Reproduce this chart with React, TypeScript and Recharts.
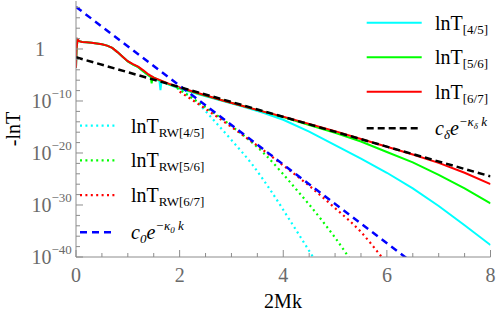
import React from 'react';
import { LineChart, Line, XAxis, YAxis } from 'recharts';

// ---------- data: x = 2Mk, y = log10(-lnT) ----------
const xCyan = [0, 0.01, 0.03, 0.06, 0.12, 0.2, 0.3, 0.4, 0.5, 0.6, 0.7, 0.8, 0.9, 1.0, 1.1, 1.2, 1.3, 1.4, 1.5, 1.61, 1.63, 1.65, 1.8, 2.0, 2.4, 2.8, 3.2, 3.6, 4.0, 4.5, 5.0, 5.5, 6.0, 6.5, 7.0, 7.5, 8.0];
const yCyan = [-3.6, 0.0, 1.8, 1.5, 1.35, 1.3, 1.2, 1.05, 0.9, 0.65, 0.2, -0.6, -1.5, -2.4, -3.0, -3.5, -4.3, -5.1, -5.7, -6.1, -7.9, -6.2, -6.9, -7.6, -8.8, -9.9, -11.0, -12.2, -13.6, -15.9, -18.5, -21.1, -23.8, -26.8, -30.2, -33.9, -37.7];

const xGreen = [0, 0.01, 0.03, 0.06, 0.12, 0.2, 0.3, 0.4, 0.5, 0.6, 0.7, 0.8, 0.9, 1.0, 1.1, 1.2, 1.3, 1.4, 1.44, 1.46, 1.48, 1.6, 1.8, 2.0, 2.4, 2.8, 3.2, 3.6, 4.0, 4.5, 5.0, 5.5, 6.0, 6.5, 7.0, 7.5, 8.0];
const yGreen = [-3.6, 0.0, 1.8, 1.5, 1.35, 1.3, 1.2, 1.05, 0.9, 0.65, 0.2, -0.6, -1.5, -2.4, -3.0, -3.5, -4.3, -5.1, -5.3, -6.6, -5.4, -6.0, -6.8, -7.5, -8.7, -9.8, -10.9, -12.0, -13.1, -14.6, -16.1, -17.8, -19.8, -21.8, -24.2, -26.8, -29.7];

const xRed = [0, 0.01, 0.03, 0.06, 0.12, 0.2, 0.3, 0.4, 0.5, 0.6, 0.7, 0.8, 0.9, 1.0, 1.1, 1.2, 1.3, 1.4, 1.5, 1.6, 1.8, 2.0, 2.4, 2.8, 3.2, 3.6, 4.0, 4.5, 5.0, 5.5, 6.0, 6.5, 7.0, 7.5, 8.0];
const yRed = [-3.6, 0.0, 1.85, 1.5, 1.35, 1.3, 1.2, 1.05, 0.9, 0.65, 0.2, -0.6, -1.5, -2.35, -2.9, -3.4, -4.1, -4.9, -5.5, -5.9, -6.7, -7.4, -8.6, -9.8, -10.9, -12.0, -13.0, -14.4, -15.8, -17.3, -18.8, -20.3, -21.9, -23.8, -26.0];

const xCyanRW = [1.95, 2.26, 2.65, 3.0, 3.4, 3.75, 4.1, 4.48, 4.7];
const yCyanRW = [-7.4, -9.5, -13.6, -17.5, -22.2, -27.1, -32.5, -38.5, -42.0];

const xGreenRW = [1.95, 2.5, 3.0, 3.62, 4.26, 4.75, 5.26, 5.45];
const yGreenRW = [-7.5, -11.2, -14.8, -20.0, -27.1, -33.0, -40.0, -43.0];

const xRedRW = [2.0, 2.5, 3.0, 3.5, 4.0, 4.5, 5.0, 5.5, 5.9, 6.1];
const yRedRW = [-8.2, -11.5, -15.0, -18.6, -22.4, -26.3, -30.6, -35.2, -40.0, -42.5];

const xFit0 = [0, 8];
const yFit0 = [8.1, -52.5];

const xFitD = [0, 8];
const yFitD = [-1.6, -24.5];

// ---------- ticks ----------
const xTicks = [0, 0.5, 1, 1.5, 2, 2.5, 3, 3.5, 4, 4.5, 5, 5.5, 6, 6.5, 7, 7.5, 8];
const xMajor = [0, 2, 4, 6, 8];
const yTicks = [-40, -38, -36, -34, -32, -30, -28, -26, -24, -22, -20, -18, -16, -14, -12, -10, -8, -6, -4, -2, 0, 2, 4, 6, 8];
const yMajor = [-40, -30, -20, -10, 0];

// ---------- styling ----------
const W = 496;
const H = 313;
const FONT = '"Liberation Serif", "Times New Roman", Times, "DejaVu Serif", serif';
const FRAME = '#8c8c8c';
const LABEL = '#6a6a6a';
const serif = { fontFamily: FONT };

const zip = (xs: number[], ys: number[]) => xs.map((x, i) => ({ x, y: ys[i] }));

const solidSeries = [
  { key: 'c', sub: '[4/5]', color: '#00FFFF', xs: xCyan, ys: yCyan },
  { key: 'g', sub: '[5/6]', color: '#00FF00', xs: xGreen, ys: yGreen },
  { key: 'r', sub: '[6/7]', color: '#FF0000', xs: xRed, ys: yRed },
];
const rwSeries = [
  { key: 'crw', sub: 'RW[4/5]', color: '#00FFFF', xs: xCyanRW, ys: yCyanRW },
  { key: 'grw', sub: 'RW[5/6]', color: '#00FF00', xs: xGreenRW, ys: yGreenRW },
  { key: 'rrw', sub: 'RW[6/7]', color: '#FF0000', xs: xRedRW, ys: yRedRW },
];

const BottomTick = (p: any) => {
  const { x, y, payload } = p;
  const major = xMajor.includes(payload.value);
  return (
    <g>
      <line x1={x} x2={x} y1={y} y2={y - (major ? 7 : 4)} stroke={FRAME} strokeWidth={1} />
      {major && (
        <text x={x} y={y + 25} textAnchor="middle" style={serif} fontSize={20} fill={LABEL}>
          {payload.value}
        </text>
      )}
    </g>
  );
};
const TopTick = (p: any) => {
  const { x, y, payload } = p;
  const major = xMajor.includes(payload.value);
  return <line x1={x} x2={x} y1={y} y2={y + (major ? 7 : 4)} stroke={FRAME} strokeWidth={1} />;
};
const LeftTick = (p: any) => {
  const { x, y, payload } = p;
  const v = payload.value;
  const major = yMajor.includes(v);
  return (
    <g>
      <line x1={x} x2={x + (major ? 7 : 4)} y1={y} y2={y} stroke={FRAME} strokeWidth={1} />
      {major && v === 0 && (
        <text x={x - 31} y={y + 7} textAnchor="end" style={serif} fontSize={20} fill={LABEL}>1</text>
      )}
      {major && v !== 0 && (
        <text x={x - 44.5} y={y + 7} textAnchor="start" style={serif} fontSize={20} fill={LABEL}>
          10<tspan fontSize={13} dy={-10}>{'\u2212' + Math.abs(v)}</tspan>
        </text>
      )}
    </g>
  );
};
const RightTick = (p: any) => {
  const { x, y, payload } = p;
  const major = yMajor.includes(payload.value);
  return <line x1={x} x2={x - (major ? 7 : 4)} y1={y} y2={y} stroke={FRAME} strokeWidth={1} />;
};

const LnT = ({ x, y, sub }: { x: number; y: number; sub: string }) => (
  <text x={x} y={y} style={serif} fontSize={20} fill="#000">
    lnT<tspan fontSize={13} dy={4}>{sub}</tspan>
  </text>
);

export default function App() {
  return (
    <div style={{ position: 'absolute', left: 0, top: 0, width: W, height: H, background: '#fff' }}>
      <LineChart width={W} height={H} margin={{ top: 1, right: 5.5, left: 0, bottom: 0 }}>
        <XAxis
          xAxisId={0}
          dataKey="x"
          type="number"
          domain={[0, 8]}
          ticks={xTicks}
          interval={0}
          allowDataOverflow
          height={56}
          tickSize={0}
          tickMargin={0}
          tickLine={false}
          axisLine={{ stroke: FRAME }}
          tick={BottomTick}
        />
        <XAxis
          xAxisId="top"
          orientation="top"
          dataKey="x"
          type="number"
          domain={[0, 8]}
          ticks={xTicks}
          interval={0}
          allowDataOverflow
          height={0}
          tickSize={0}
          tickMargin={0}
          tickLine={false}
          axisLine={{ stroke: FRAME }}
          tick={TopTick}
        />
        <YAxis
          yAxisId={0}
          type="number"
          domain={[-40, 9.23]}
          ticks={yTicks}
          interval={0}
          allowDataOverflow
          width={76}
          tickSize={0}
          tickMargin={0}
          tickLine={false}
          axisLine={{ stroke: FRAME }}
          tick={LeftTick}
        />
        <YAxis
          yAxisId="right"
          orientation="right"
          type="number"
          domain={[-40, 9.23]}
          ticks={yTicks}
          interval={0}
          allowDataOverflow
          width={0}
          tickSize={0}
          tickMargin={0}
          tickLine={false}
          axisLine={{ stroke: FRAME }}
          tick={RightTick}
        />
        {solidSeries.map((s) => (
          <Line
            key={s.key}
            data={zip(s.xs, s.ys)}
            dataKey="y"
            type="linear"
            stroke={s.color}
            strokeWidth={2}
            dot={false}
            isAnimationActive={false}
          />
        ))}
        {rwSeries.map((s) => (
          <Line
            key={s.key}
            data={zip(s.xs, s.ys)}
            dataKey="y"
            type="monotone"
            stroke={s.color}
            strokeWidth={2.2}
            strokeDasharray="2 3.4"
            dot={false}
            isAnimationActive={false}
          />
        ))}
        <Line
          data={zip(xFit0, yFit0)}
          dataKey="y"
          type="linear"
          stroke="#0000FF"
          strokeWidth={2.5}
          strokeDasharray="7 5"
          dot={false}
          isAnimationActive={false}
        />
        <Line
          data={zip(xFitD, yFitD)}
          dataKey="y"
          type="linear"
          stroke="#000"
          strokeWidth={2.5}
          strokeDasharray="7 4"
          dot={false}
          isAnimationActive={false}
        />
      </LineChart>
      <svg
        width={W}
        height={H}
        style={{ position: 'absolute', left: 0, top: 0, pointerEvents: 'none' }}
      >
        {/* axis labels */}
        <text x={283} y={308} textAnchor="middle" style={serif} fontSize={20} fill="#000">2Mk</text>
        <text
          x={0}
          y={0}
          transform="translate(20,129) rotate(-90)"
          textAnchor="middle"
          style={serif}
          fontSize={20}
          fill="#000"
        >
          -lnT
        </text>
        {/* top-right legend */}
        {solidSeries.map((s, i) => (
          <g key={s.key}>
            <line x1={366.7} x2={421.7} y1={22.7 + i * 34.5} y2={22.7 + i * 34.5} stroke={s.color} strokeWidth={2} />
            <LnT x={435} y={29.5 + i * 34.5} sub={s.sub} />
          </g>
        ))}
        <line x1={366.7} x2={421.7} y1={128.3} y2={128.3} stroke="#000" strokeWidth={2.5} strokeDasharray="7 4" />
        <text x={435} y={135} style={serif} fontSize={20} fontStyle="italic" fill="#000">
          c<tspan fontSize={13} dy={4}>{'\u03b4'}</tspan>
          <tspan dy={-4}>e</tspan>
          <tspan fontSize={13} dy={-9}>{'\u2212\u03ba'}</tspan>
          <tspan fontSize={9} dy={3}>{'\u03b4'}</tspan>
          <tspan fontSize={13} dy={-3}>{' k'}</tspan>
        </text>
        {/* left legend */}
        {rwSeries.map((s, i) => (
          <g key={s.key}>
            <line
              x1={80}
              x2={115}
              y1={125.7 + i * 34.7}
              y2={125.7 + i * 34.7}
              stroke={s.color}
              strokeWidth={2.2}
              strokeDasharray="2 3.4"
            />
            <LnT x={131} y={132.5 + i * 34.7} sub={s.sub} />
          </g>
        ))}
        <line x1={80} x2={115} y1={232.3} y2={232.3} stroke="#0000FF" strokeWidth={2.5} strokeDasharray="7 5" />
        <text x={131} y={239} style={serif} fontSize={20} fontStyle="italic" fill="#000">
          c<tspan fontSize={13} dy={4}>0</tspan>
          <tspan dy={-4}>e</tspan>
          <tspan fontSize={13} dy={-9}>{'\u2212\u03ba'}</tspan>
          <tspan fontSize={9} dy={3}>0</tspan>
          <tspan fontSize={13} dy={-3}>{' k'}</tspan>
        </text>
      </svg>
    </div>
  );
}
